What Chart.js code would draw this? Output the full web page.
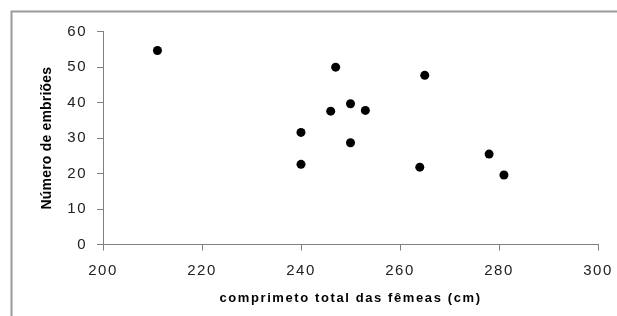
<!DOCTYPE html>
<html><head><meta charset="utf-8">
<script src="https://cdn.jsdelivr.net/npm/chart.js@4"></script>
<style>html,body{margin:0;padding:0;background:#fff;overflow:hidden;}</style>
</head><body>
<canvas id="c" width="617" height="316" style="display:block;width:617px;height:316px"></canvas>
<script>
const comprimento = [211, 247, 265, 250, 246, 253, 240, 250, 240, 264, 278, 281];
const embrioes    = [54.7, 50, 47.7, 39.7, 37.6, 37.8, 31.6, 28.7, 22.6, 21.8, 25.5, 19.6];
const xTicks = [200, 220, 240, 260, 280, 300];
const yTicks = [0, 10, 20, 30, 40, 50, 60];
const xTitle = 'comprimeto total das fêmeas (cm)';
const yTitle = 'Número de embriões';

const FONT = '"Liberation Sans", Arial, sans-serif';
const AXIS = '#808080';

const spacingPlugin = {
  id: 'spacing',
  beforeDraw(chart) {
    const sp = { x: { labels: '1.5px', title: '1.6px' }, y: { labels: '1.5px', title: '0.2px' } };
    for (const id of ['x', 'y']) {
      const s = chart.scales[id];
      if (!s || s._spWrapped) continue;
      s._spWrapped = true;
      const oL = s.drawLabels, oT = s.drawTitle;
      s.drawLabels = function (a) { const c = this.ctx; c.save(); c.letterSpacing = sp[id].labels; oL.call(this, a); c.restore(); };
      s.drawTitle = function (a) { const c = this.ctx; c.save(); c.letterSpacing = sp[id].title; oT.call(this, a); c.restore(); };
    }
  }
};

const framePlugin = {
  id: 'frame',
  beforeDraw(chart) {
    const c = chart.ctx;
    c.save();
    c.fillStyle = '#fff';
    c.fillRect(0, 0, chart.width, chart.height);
    c.strokeStyle = '#9a9a9a';
    c.lineWidth = 2;
    c.strokeRect(11.5, 11.5, 800, 500);
    c.restore();
  }
};

new Chart(document.getElementById('c'), {
  type: 'scatter',
  data: {
    datasets: [{
      data: comprimento.map((x, i) => ({ x, y: embrioes[i] })),
      backgroundColor: '#000',
      borderWidth: 0,
      pointRadius: 4.5,
      pointHoverRadius: 4.5
    }]
  },
  plugins: [framePlugin, spacingPlugin],
  options: {
    responsive: false,
    animation: false,
    devicePixelRatio: 1,
    layout: { padding: { left: 0, right: 19, top: 31.7, bottom: 0 } },
    plugins: { legend: { display: false }, tooltip: { enabled: false } },
    scales: {
      x: {
        type: 'linear', min: 200, max: 300,
        afterBuildTicks: s => { s.ticks = xTicks.map(v => ({ value: v })); },
        afterFit: s => { s.height = 71.5; s.paddingLeft = 0; s.paddingRight = 0; },
        grid: { drawOnChartArea: false, drawTicks: true, tickLength: 6, color: AXIS },
        border: { display: true, color: AXIS, width: 1 },
        ticks: { color: '#222', font: { family: FONT, size: 15 }, padding: 11, maxRotation: 0 },
        title: { display: true, text: xTitle, color: '#000', font: { family: FONT, size: 13, weight: 'bold' }, padding: { top: 0, bottom: 10 } }
      },
      y: {
        type: 'linear', min: 0, max: 60,
        afterBuildTicks: s => { s.ticks = yTicks.map(v => ({ value: v })); },
        afterFit: s => { s.width = 103; s.paddingTop = 0; s.paddingBottom = 0; },
        grid: { drawOnChartArea: false, drawTicks: true, tickLength: 6, color: AXIS },
        border: { display: true, color: AXIS, width: 1 },
        ticks: { color: '#222', font: { family: FONT, size: 15 }, padding: 10 },
        title: { display: true, text: yTitle, color: '#000', font: { family: FONT, size: 14, weight: 'bold' }, padding: { top: 38.6, bottom: 0 } }
      }
    }
  }
});
</script>
</body></html>
